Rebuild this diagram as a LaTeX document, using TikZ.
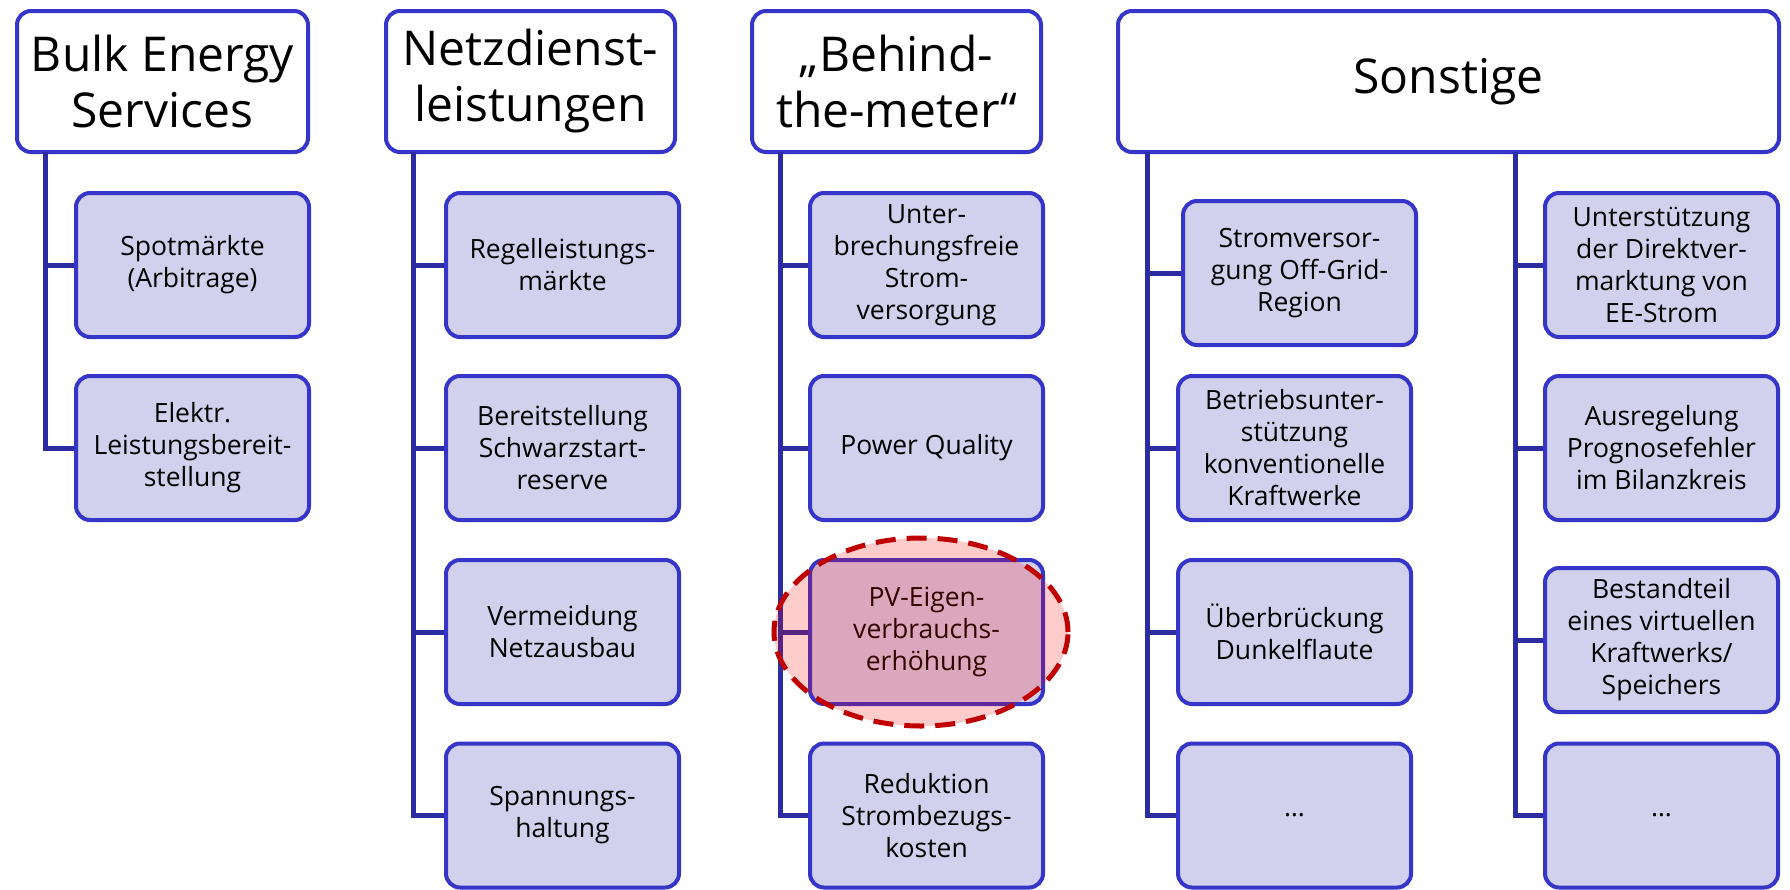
\documentclass[tikz,border=0pt]{standalone}
\usepackage{fontspec}
\setmainfont{Open Sans}
\usepackage{xcolor}
\definecolor{boxblue}{HTML}{3535C9}
\definecolor{linenavy}{HTML}{2C2CA2}
\definecolor{boxfill}{HTML}{D1D1ED}
\definecolor{markred}{HTML}{C00000}
\definecolor{markfill}{HTML}{FF0000}

\begin{document}
\begin{tikzpicture}[x=1pt,y=-1pt,
    head/.style={draw=boxblue,line width=4pt,fill=white,rounded corners=14pt,
        inner sep=0pt,minimum height=141pt,align=center,
        font=\fontsize{48}{56}\selectfont},
    item/.style={draw=boxblue,line width=4pt,fill=boxfill,rounded corners=14pt,
        inner sep=0pt,minimum width=233pt,minimum height=144pt,align=center,
        font=\fontsize{26.5}{32}\selectfont},
    trunk/.style={draw=linenavy,line width=5pt},
    highlight/.style={draw=markred,line width=5pt,dash pattern=on 20pt off 11pt,
        fill=markfill,fill opacity=0.2}]
                \useasboundingbox (0,0) rectangle (1790,889);

                \coordinate (t1) at (45,152);
                \coordinate (t2) at (413,152);
                \coordinate (t3) at (780,152);
                \coordinate (t4) at (1147,152);
                \coordinate (t5) at (1515,152);

                \node[head,minimum width=291pt] (bulk) at (162.5,81.5) {Bulk Energy\\Services};
                \node[head,minimum width=289pt] (netz) at (530.5,81.5) {Netzdienst-\\leistungen};
                \node[head,minimum width=289pt] (btm) at (896.5,81.5) {„Behind-\\the-meter“};
                \node[head,minimum width=661pt] (sonst) at (1448.5,81.5) {Sonstige};

                \node[item] (spot) at (192.5,265) {Spotmärkte\\(Arbitrage)};
                \node[item] (elek) at (192.5,448) {Elektr.\\Leistungsbereit-\\stellung};

                \node[item] (regel) at (562.5,265) {Regelleistungs-\\märkte};
                \node[item] (schwarz) at (562.5,448) {Bereitstellung\\Schwarzstart-\\reserve};
                \node[item] (ausbau) at (562.5,632) {Vermeidung\\Netzausbau};
                \node[item] (spann) at (562.5,815.5) {Spannungs-\\haltung};

                \node[item] (usv) at (926.5,265) {Unter-\\brechungsfreie\\Strom-\\versorgung};
                \node[item] (pq) at (926.5,448) {Power Quality};
                \node[item] (pv) at (926.5,632) {PV-Eigen-\\verbrauchs-\\erhöhung};
                \node[item] (bezug) at (926.5,815.5) {Reduktion\\Strombezugs-\\kosten};

                \node[item] (offgrid) at (1299.5,273) {Stromversor-\\gung Off-Grid-\\Region};
                \node[item] (betrieb) at (1294.5,448) {Betriebsunter-\\stützung\\konventionelle\\Kraftwerke};
                \node[item] (flaute) at (1294.5,632) {Überbrückung\\Dunkelflaute};
                \node[item] (more4) at (1294.5,815.5) {…};

                \node[item] (direkt) at (1661.5,265) {Unterstützung\\der Direktver-\\marktung von\\EE-Strom};
                \node[item] (prog) at (1661.5,448) {Ausregelung\\Prognosefehler\\im Bilanzkreis};
                \node[item] (vkw) at (1661.5,640) {Bestandteil\\eines virtuellen\\Kraftwerks/\\Speichers};
                \node[item] (more5) at (1661.5,815.5) {…};

                \draw[trunk] (t1) |- (elek.west);
                \draw[trunk] (spot.west) -- (spot.west -| t1);

                \draw[trunk] (t2) |- (spann.west);
                \draw[trunk] (regel.west) -- (regel.west -| t2);
                \draw[trunk] (schwarz.west) -- (schwarz.west -| t2);
                \draw[trunk] (ausbau.west) -- (ausbau.west -| t2);

                \draw[trunk] (t3) |- (bezug.west);
                \draw[trunk] (usv.west) -- (usv.west -| t3);
                \draw[trunk] (pq.west) -- (pq.west -| t3);
                \draw[trunk] (pv.west) -- (pv.west -| t3);

                \draw[trunk] (t4) |- (more4.west);
                \draw[trunk] (offgrid.west) -- (offgrid.west -| t4);
                \draw[trunk] (betrieb.west) -- (betrieb.west -| t4);
                \draw[trunk] (flaute.west) -- (flaute.west -| t4);

                \draw[trunk] (t5) |- (more5.west);
                \draw[trunk] (direkt.west) -- (direkt.west -| t5);
                \draw[trunk] (prog.west) -- (prog.west -| t5);
                \draw[trunk] (vkw.west) -- (vkw.west -| t5);

                \draw[highlight] ([xshift=-5.5pt]pv.center) ellipse (147pt and 94pt);
            \end{tikzpicture}
\end{document}
